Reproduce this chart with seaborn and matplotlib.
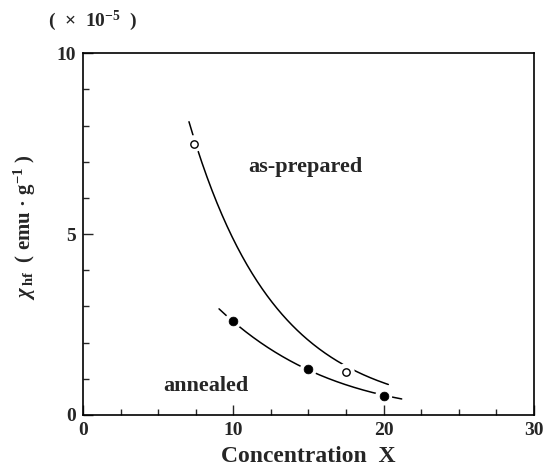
import numpy as np
import pandas as pd
import matplotlib
matplotlib.use("Agg")
import matplotlib.pyplot as plt
import seaborn as sns
from matplotlib.ticker import MultipleLocator

# measured points
ap_x = [7.4, 17.5]
ap_y = [7.5, 1.2]
an_x = [10.0, 15.0, 20.0]
an_y = [2.6, 1.27, 0.52]

# fitted curves
ap_curve_x = [7.05, 7.67, 8.9, 10.45, 11.56, 12.33, 13.33, 15.55, 17.32, 20.31]
ap_curve_y = [7.98, 7.27, 5.94, 4.56, 3.73, 3.18, 2.81, 1.89, 1.33, 0.86]
an_curve_x = [9.05, 9.9, 12.22, 14.97, 17.76, 19.96, 21.2]
an_curve_y = [2.93, 2.6, 1.89, 1.27, 0.80, 0.52, 0.46]

x_ticks = [0, 10, 20, 30]
y_ticks = [0, 5, 10]

sns.set_style("ticks")
plt.rcParams['font.family'] = ['Liberation Serif', 'DejaVu Serif']
plt.rcParams['font.weight'] = 'bold'
plt.rcParams['mathtext.fontset'] = 'custom'
plt.rcParams['mathtext.rm'] = 'Liberation Serif:bold'
plt.rcParams['mathtext.it'] = 'Liberation Serif:italic:bold'
plt.rcParams['mathtext.bf'] = 'Liberation Serif:bold'

fig = plt.figure(figsize=(5.46, 4.71), dpi=100)
ax = fig.add_axes([0.152, 0.119, 0.826, 0.768])

def smooth(xs, ys):
    c = np.polyfit(xs, np.log(ys), 2)
    xx = np.linspace(min(xs), max(xs), 200)
    return xx, np.exp(np.polyval(c, xx))

for cx, cy in [(ap_curve_x, ap_curve_y), (an_curve_x, an_curve_y)]:
    xx, yy = smooth(cx, cy)
    sns.lineplot(x=xx, y=yy, ax=ax, color='black', linewidth=1.1, sort=False)

# white halos to create gaps around markers
sns.scatterplot(x=ap_x + an_x, y=ap_y + an_y, ax=ax, s=150, color='white',
                edgecolor='none', zorder=3)
sns.scatterplot(x=ap_x, y=ap_y, ax=ax, s=28, facecolor='white',
                edgecolor='black', linewidth=1.0, zorder=4)
sns.scatterplot(x=an_x, y=an_y, ax=ax, s=40, color='black',
                edgecolor='black', zorder=4)

ax.set_xlim(0, 30)
ax.set_ylim(0, 10)
ax.set_xticks(x_ticks)
ax.set_yticks(y_ticks)
ax.xaxis.set_minor_locator(MultipleLocator(2.5))
ax.yaxis.set_minor_locator(MultipleLocator(1))
ax.tick_params(which='both', direction='in', top=False, right=False,
               labelsize=14, width=1.0, pad=5)
ax.tick_params(which='major', length=7)
ax.tick_params(which='minor', length=4)
for lab in ax.get_xticklabels() + ax.get_yticklabels():
    lab.set_fontweight('bold')
for sp in ax.spines.values():
    sp.set_visible(True)
    sp.set_linewidth(1.2)
    sp.set_color('black')

ax.set_xlabel('Concentration  X', fontsize=17, fontweight='bold', labelpad=5)
ax.set_ylabel('$\\chi_{\\,\\mathrm{hf}}$  ( emu \u00b7 g$^{-1}$ )', fontsize=15,
              fontweight='bold')
ax.yaxis.set_label_coords(-0.1, 0.52)

ax.text(14.8, 6.85, 'as-prepared', fontsize=16, fontweight='bold',
        ha='center', va='center')
ax.text(8.2, 0.8, 'annealed', fontsize=16, fontweight='bold',
        ha='center', va='center')

fig.text(0.17, 0.955, '(  \u00d7  10$^{-5}$  )', fontsize=14, fontweight='bold',
         ha='center', va='center')

fig.savefig('out.png', dpi=100)
